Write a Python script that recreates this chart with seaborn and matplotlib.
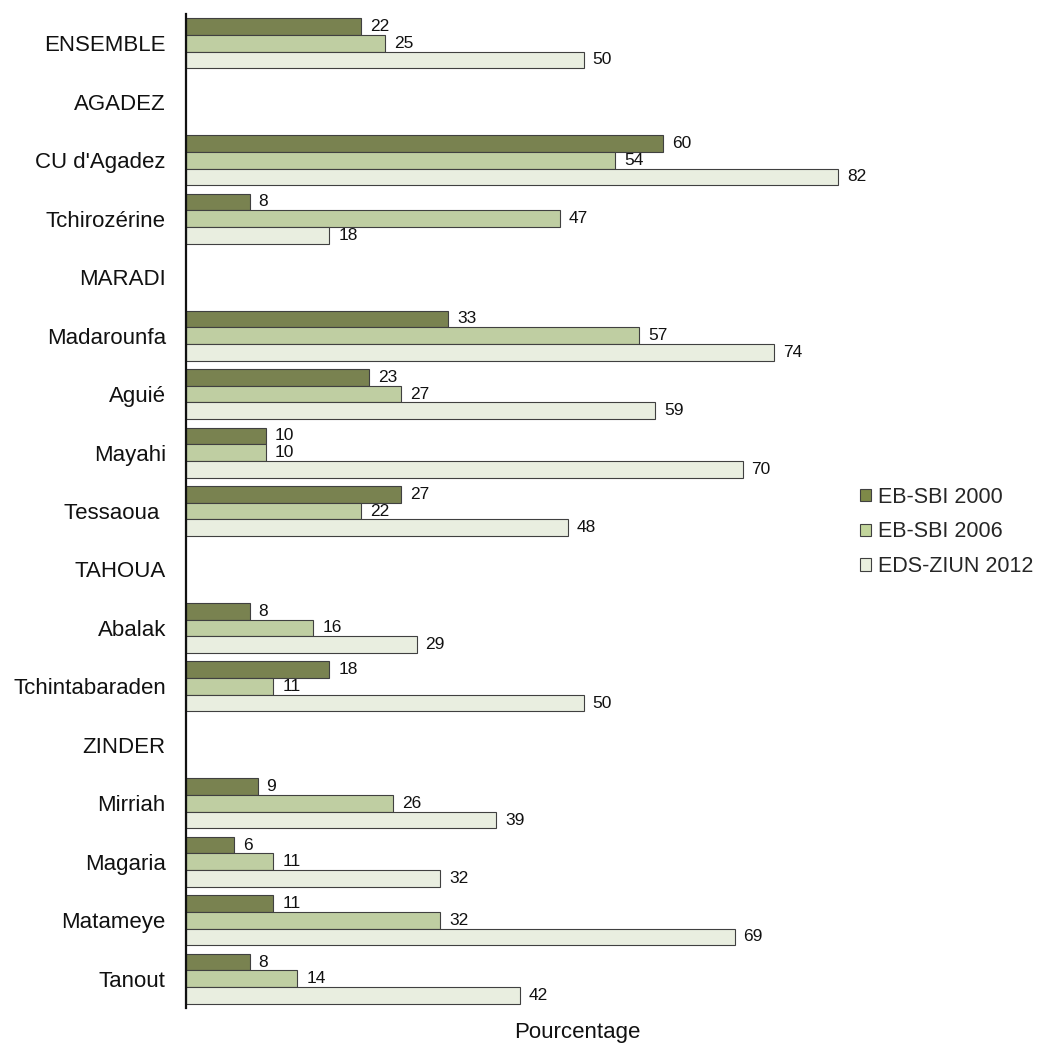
import numpy as np
import pandas as pd
import matplotlib
matplotlib.use("Agg")
import matplotlib.pyplot as plt
import seaborn as sns
from matplotlib.patches import Patch

categories = ["ENSEMBLE", "AGADEZ", "CU d'Agadez", "Tchirozérine", "MARADI",
              "Madarounfa", "Aguié", "Mayahi", "Tessaoua ", "TAHOUA", "Abalak",
              "Tchintabaraden", "ZINDER", "Mirriah", "Magaria", "Matameye", "Tanout"]
series = ["EB-SBI 2000", "EB-SBI 2006", "EDS-ZIUN 2012"]
nan = np.nan
v2000 = [22, nan, 60, 8, nan, 33, 23, 10, 27, nan, 8, 18, nan, 9, 6, 11, 8]
v2006 = [25, nan, 54, 47, nan, 57, 27, 10, 22, nan, 16, 11, nan, 26, 11, 32, 14]
v2012 = [50, nan, 82, 18, nan, 74, 59, 70, 48, nan, 29, 50, nan, 39, 32, 69, 42]
colors = ["#7E8A48", "#C2D59B", "#EAF0DE"]

rows = []
for s, vals in zip(series, [v2000, v2006, v2012]):
    for c, v in zip(categories, vals):
        rows.append({"cat": c, "serie": s, "val": v})
df = pd.DataFrame(rows)

sns.set_theme(style="white")
plt.rcParams['font.family'] = ['Liberation Sans', 'DejaVu Sans']

fig = plt.figure(figsize=(10.41, 10.46), dpi=100)
ax = fig.add_axes([186/1041, 38/1046, (968-186)/1041, (1008-14)/1046])

sns.barplot(data=df.dropna(), y="cat", x="val", hue="serie", order=categories,
            hue_order=series, palette=colors, orient="h", width=0.855,
            edgecolor="#404040", linewidth=0.8, ax=ax, legend=False, errorbar=None)

for cont in ax.containers:
    ax.bar_label(cont, fmt="%g", padding=6.5, fontsize=12.5, color="#111111")

ax.set_xlim(0, (968-186)/7.95)
ax.set_ylim(len(categories)-0.5, -0.5)
ax.set_xticks([])
ax.set_ylabel("")
ax.set_xlabel("Pourcentage", fontsize=16, labelpad=10, color="#111111")
ax.tick_params(axis="y", length=0, labelsize=16, pad=14.5, labelcolor="#111111")
for sp in ["top", "right", "bottom"]:
    ax.spines[sp].set_visible(False)
ax.spines["left"].set_color("#111111")
ax.spines["left"].set_linewidth(1.6)

handles = [Patch(facecolor=c, edgecolor="#404040", linewidth=0.8) for c in colors]
fig.legend(handles, series, loc="center left", bbox_to_anchor=(0.8074, 0.4914),
           frameon=False, fontsize=15.5, handlelength=0.5, handleheight=0.5,
           handletextpad=0.35, labelspacing=0.63)

fig.savefig("out.png", dpi=100)
